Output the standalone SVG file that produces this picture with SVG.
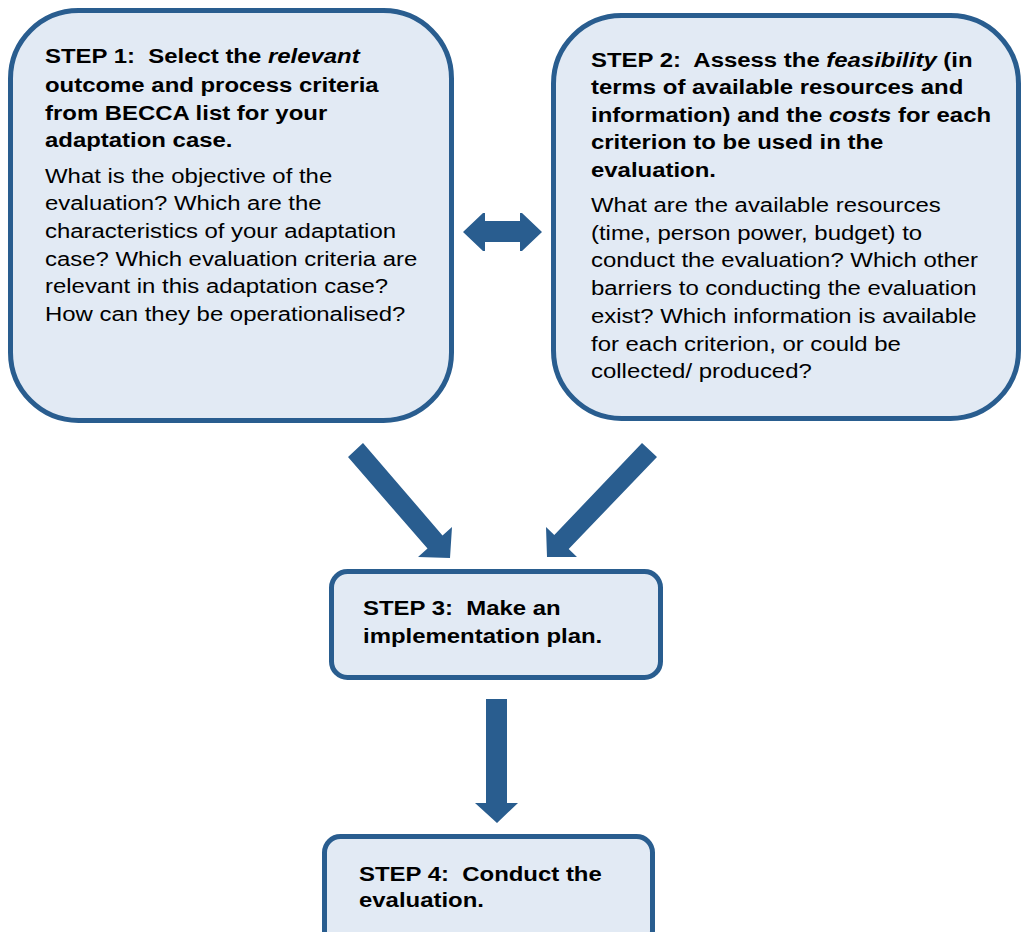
<svg xmlns="http://www.w3.org/2000/svg" width="1022" height="932" viewBox="0 0 1022 932">
<style>
.box{fill:#e2eaf4;stroke:#295d8f;stroke-width:5}
.arrow{fill:#295d8f}
text{font-family:"Liberation Sans",Arial,sans-serif;font-size:21px;fill:#000;white-space:pre}
.b{font-weight:bold}
</style>
<rect x="0" y="0" width="1022" height="932" fill="#ffffff"/>
<g id="connectors">
<path class="arrow" d="M463,232 L483,213 L485,213 L485,221 L520,221 L520,213 L522,213 L542,232 L522,251 L520,251 L520,242 L485,242 L485,251 L483,251 Z"/>
<path class="arrow" d="M348,457 L427.5,548.6 L418,557 L450,558 L452,527 L442.5,535.4 L363,443 Z"/>
<path class="arrow" d="M642,443 L554.3,535 L546,527 L547,557 L577,557 L568.7,549 L657,457 Z"/>
<path class="arrow" d="M486,699 L507,699 L507,803 L518,803 L497,823 L475,803 L486,803 Z"/>
</g>
<g id="step1">
<rect class="box" x="10.5" y="10.5" width="441" height="410" rx="68" ry="68"/>
<g transform="translate(45,0) scale(1.14,1)">
<text class="b" x="0" y="63" xml:space="preserve">STEP 1:  Select the <tspan font-style="italic">relevant</tspan></text>
<text class="b" x="0" y="92">outcome and process criteria</text>
<text class="b" x="0" y="120">from BECCA list for your</text>
<text class="b" x="0" y="147">adaptation case.</text>
<text x="0" y="183">What is the objective of the</text>
<text x="0" y="210">evaluation? Which are the</text>
<text x="0" y="238">characteristics of your adaptation</text>
<text x="0" y="266">case? Which evaluation criteria are</text>
<text x="0" y="293">relevant in this adaptation case?</text>
<text x="0" y="321">How can they be operationalised?</text>
</g>
</g>
<g id="step2">
<rect class="box" x="553.5" y="15.5" width="465" height="403" rx="68" ry="68"/>
<g transform="translate(591,0) scale(1.14,1)">
<text class="b" x="0" y="67" xml:space="preserve">STEP 2:  Assess the <tspan font-style="italic">feasibility</tspan> (in</text>
<text class="b" x="0" y="94">terms of available resources and</text>
<text class="b" x="0" y="122">information) and the <tspan font-style="italic">costs</tspan> for each</text>
<text class="b" x="0" y="149">criterion to be used in the</text>
<text class="b" x="0" y="177">evaluation.</text>
<text x="0" y="212">What are the available resources</text>
<text x="0" y="240">(time, person power, budget) to</text>
<text x="0" y="267">conduct the evaluation? Which other</text>
<text x="0" y="295">barriers to conducting the evaluation</text>
<text x="0" y="323">exist? Which information is available</text>
<text x="0" y="351">for each criterion, or could be</text>
<text x="0" y="378">collected/ produced?</text>
</g>
</g>
<g id="step3">
<rect class="box" x="331.5" y="571.5" width="329" height="106" rx="16" ry="16"/>
<g transform="translate(363,0) scale(1.14,1)">
<text class="b" x="0" y="615" xml:space="preserve">STEP 3:  Make an</text>
<text class="b" x="0" y="643">implementation plan.</text>
</g>
</g>
<g id="step4">
<rect class="box" x="324.5" y="836.5" width="328" height="110" rx="16" ry="16"/>
<g transform="translate(359,0) scale(1.14,1)">
<text class="b" x="0" y="881" xml:space="preserve">STEP 4:  Conduct the</text>
<text class="b" x="0" y="907">evaluation.</text>
</g>
</g>
</svg>
